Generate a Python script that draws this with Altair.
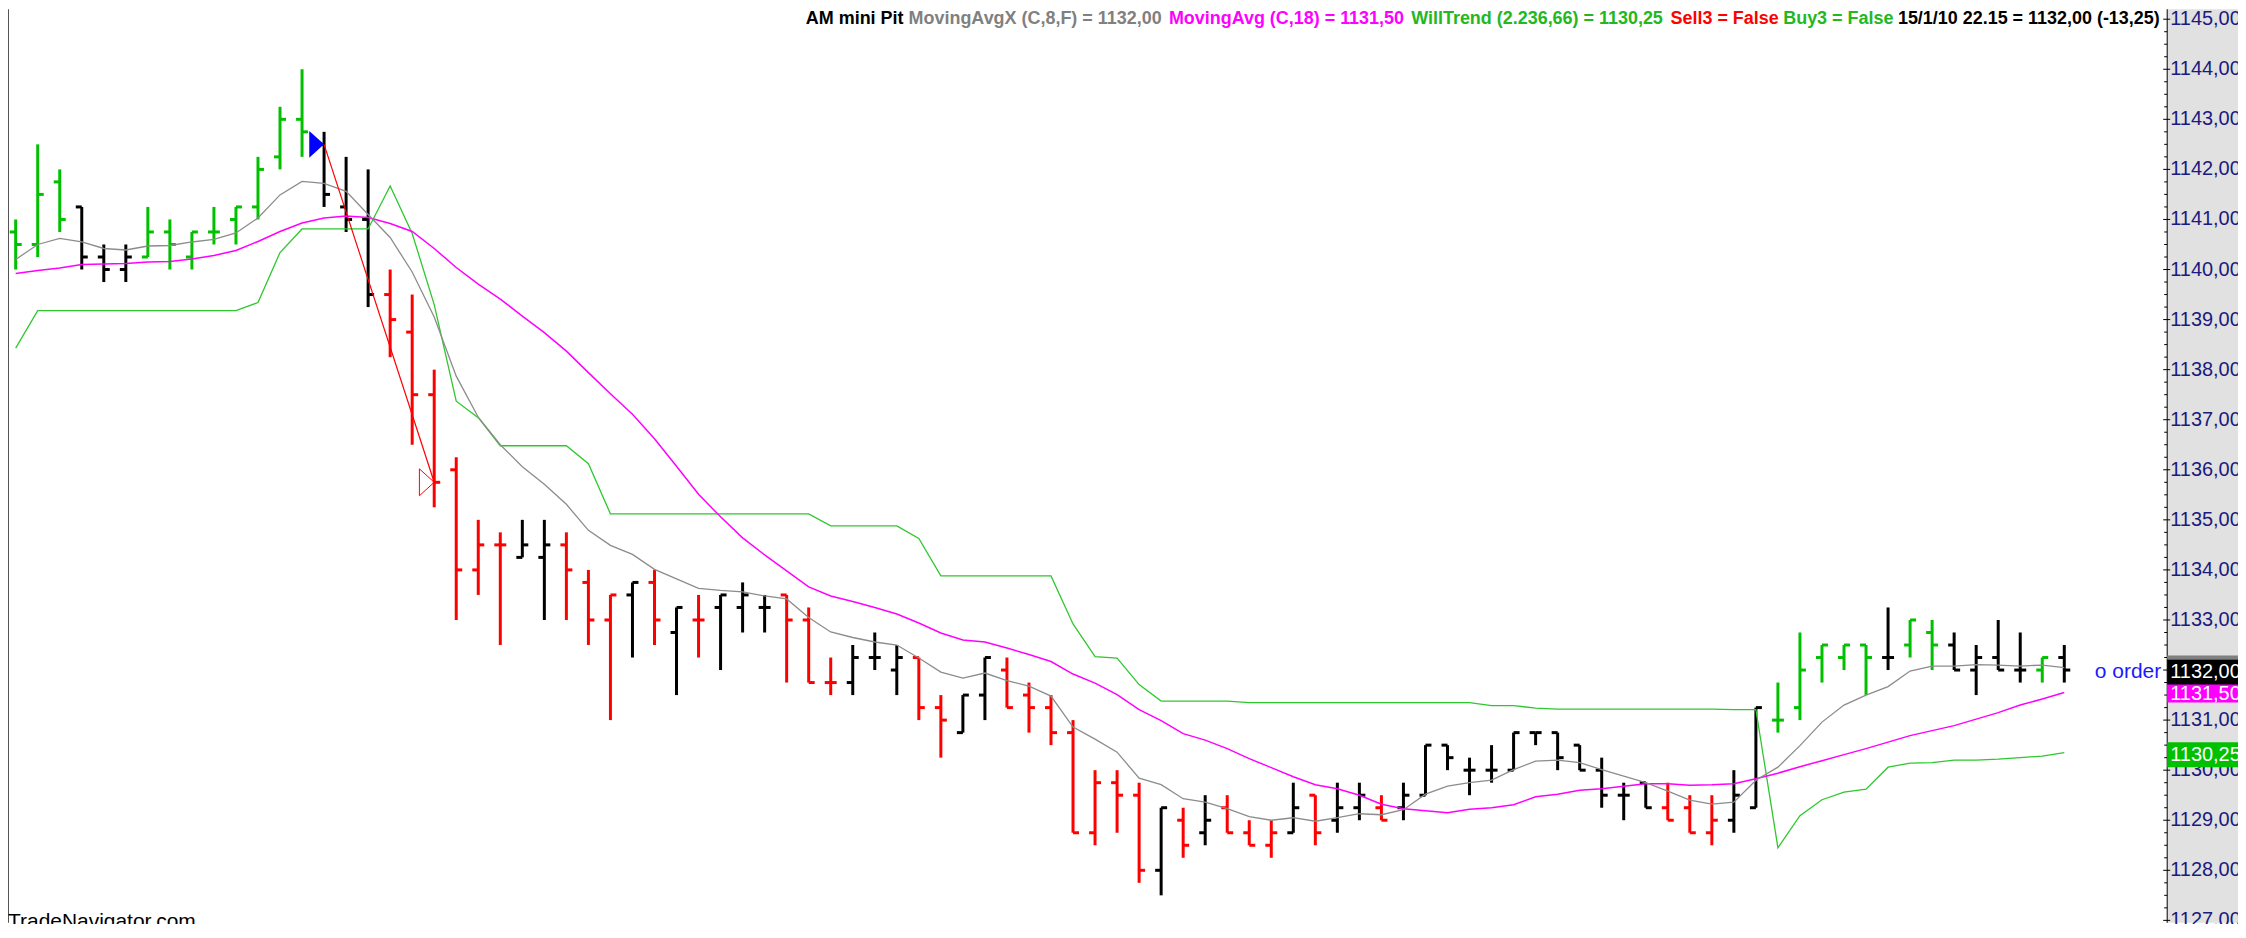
import altair as alt
import pandas as pd

# ---------------- data ----------------
opens = [1140.75, 1140.5, 1141.75, 1141.25, 1140.25, 1140.0, 1140.25, 1140.75, 1140.25, 1140.75,
         1141.0, 1141.25, 1142.25, 1143.0, 1142.5, 1141.25, 1141.0, 1139.5, 1138.75, 1137.5,
         1136.0, 1134.0, 1134.5, 1134.25, 1134.25, 1134.5, 1133.75, 1133.0, 1133.5, 1133.75,
         1132.75, 1133.0, 1133.25, 1133.25, 1133.25, 1133.5, 1133.0, 1131.75, 1131.75, 1132.25,
         1132.0, 1132.25, 1131.25, 1130.75, 1131.5, 1132.0, 1131.5, 1131.25, 1130.75, 1128.75,
         1129.75, 1129.5, 1128.0, 1129.0, 1128.75, 1129.25, 1128.75, 1128.5, 1128.75, 1129.5,
         1129.0, 1129.25, 1129.25, 1129.25, 1129.5, 1130.5, 1130.0, 1130.0, 1130.0, 1130.75,
         1130.75, 1130.5, 1130.0, 1129.5, 1129.75, 1129.25, 1129.25, 1128.75, 1129.0, 1129.25,
         1131.0, 1131.25, 1132.25, 1132.25, 1132.5, 1132.25, 1132.5, 1132.75, 1132.5, 1132.0,
         1132.25, 1132.0, 1132.0, 1132.25]
highs = [1141.0, 1142.5, 1142.0, 1141.25, 1140.5, 1140.5, 1141.25, 1141.0, 1140.75, 1141.25,
         1141.25, 1142.25, 1143.25, 1144.0, 1142.75, 1142.25, 1142.0, 1140.0, 1139.5, 1138.0,
         1136.25, 1135.0, 1134.75, 1135.0, 1135.0, 1134.75, 1134.0, 1133.5, 1133.75, 1134.0,
         1133.25, 1133.5, 1133.5, 1133.75, 1133.5, 1133.5, 1133.25, 1132.25, 1132.5, 1132.75,
         1132.5, 1132.25, 1131.5, 1131.5, 1132.25, 1132.25, 1131.75, 1131.5, 1131.0, 1130.0,
         1130.0, 1129.75, 1129.25, 1129.25, 1129.5, 1129.5, 1129.0, 1129.0, 1129.75, 1129.5,
         1129.75, 1129.75, 1129.5, 1129.75, 1130.5, 1130.5, 1130.25, 1130.5, 1130.75, 1130.75,
         1130.75, 1130.5, 1130.25, 1129.75, 1129.75, 1129.75, 1129.5, 1129.5, 1130.0, 1131.25,
         1131.75, 1132.75, 1132.5, 1132.5, 1132.5, 1133.25, 1133.0, 1133.0, 1132.75, 1132.5,
         1133.0, 1132.75, 1132.25, 1132.5]
lows = [1140.0, 1140.25, 1140.75, 1140.0, 1139.75, 1139.75, 1140.25, 1140.0, 1140.0, 1140.5,
        1140.5, 1141.0, 1142.0, 1142.25, 1141.25, 1140.75, 1139.25, 1138.25, 1136.5, 1135.25,
        1133.0, 1133.5, 1132.5, 1134.25, 1133.0, 1133.0, 1132.5, 1131.0, 1132.25, 1132.5,
        1131.5, 1132.25, 1132.0, 1132.75, 1132.75, 1131.75, 1131.75, 1131.5, 1131.5, 1132.0,
        1131.5, 1131.0, 1130.25, 1130.75, 1131.0, 1131.25, 1130.75, 1130.5, 1128.75, 1128.5,
        1128.75, 1127.75, 1127.5, 1128.25, 1128.5, 1128.75, 1128.5, 1128.25, 1128.75, 1128.5,
        1128.75, 1129.0, 1129.0, 1129.0, 1129.5, 1130.0, 1129.5, 1129.75, 1130.0, 1130.5,
        1130.0, 1130.0, 1129.25, 1129.0, 1129.25, 1129.0, 1128.75, 1128.5, 1128.75, 1129.25,
        1130.75, 1131.0, 1131.75, 1132.0, 1131.5, 1132.0, 1132.25, 1132.0, 1132.0, 1131.5,
        1132.0, 1131.75, 1131.75, 1131.75]
closes = [1140.5, 1141.5, 1141.0, 1140.25, 1140.0, 1140.25, 1140.75, 1140.5, 1140.75, 1140.75,
          1141.25, 1142.0, 1143.0, 1142.75, 1141.5, 1141.0, 1139.5, 1139.0, 1137.5, 1135.75,
          1134.0, 1134.5, 1134.5, 1134.5, 1134.5, 1134.0, 1133.0, 1133.5, 1133.75, 1133.0,
          1133.25, 1133.0, 1133.5, 1133.5, 1133.25, 1133.0, 1131.75, 1131.75, 1132.25, 1132.25,
          1132.25, 1131.25, 1131.0, 1131.5, 1132.25, 1131.25, 1131.25, 1130.75, 1128.75, 1129.75,
          1129.5, 1128.0, 1129.25, 1128.5, 1129.0, 1128.75, 1128.5, 1128.75, 1129.25, 1128.75,
          1129.25, 1129.5, 1129.0, 1129.5, 1130.5, 1130.25, 1130.0, 1130.0, 1130.75, 1130.75,
          1130.25, 1130.0, 1129.5, 1129.5, 1129.25, 1129.0, 1128.75, 1129.0, 1129.5, 1131.25,
          1131.0, 1132.0, 1132.5, 1132.5, 1132.25, 1132.25, 1133.0, 1132.5, 1132.0, 1132.25,
          1132.0, 1132.0, 1132.25, 1132.0]
# bar colour state: g = green, k = black, r = red
bar_colors = ["g", "g", "g", "k", "k", "k", "g", "g", "g", "g",
              "g", "g", "g", "g", "k", "k", "k", "r", "r", "r",
              "r", "r", "r", "k", "k", "r", "r", "r", "k", "r",
              "k", "r", "k", "k", "k", "r", "r", "r", "k", "k",
              "k", "r", "r", "k", "k", "r", "r", "r", "r", "r",
              "r", "r", "k", "r", "k", "r", "r", "r", "k", "r",
              "k", "k", "r", "k", "k", "k", "k", "k", "k", "k",
              "k", "k", "k", "k", "k", "r", "r", "r", "k", "k",
              "g", "g", "g", "g", "g", "k", "g", "g", "k", "k",
              "k", "k", "g", "k"]
ma8 = [1140.2, 1140.5, 1140.62, 1140.55, 1140.42, 1140.39, 1140.47, 1140.48, 1140.55, 1140.6,
       1140.73, 1141.03, 1141.49, 1141.76, 1141.72, 1141.56, 1141.1, 1140.64, 1139.95, 1139.05,
       1137.87, 1137.05, 1136.5, 1136.06, 1135.71, 1135.31, 1134.79, 1134.49, 1134.31, 1134.01,
       1133.82, 1133.63, 1133.59, 1133.56, 1133.48, 1133.42, 1133.05, 1132.76, 1132.65, 1132.56,
       1132.5, 1132.24, 1131.96, 1131.84, 1131.94, 1131.79, 1131.68, 1131.48, 1130.86, 1130.62,
       1130.36, 1129.84, 1129.71, 1129.43, 1129.36, 1129.23, 1129.07, 1129.0, 1129.05, 1128.98,
       1129.05, 1129.13, 1129.11, 1129.21, 1129.52, 1129.68, 1129.75, 1129.8, 1130.01, 1130.18,
       1130.2, 1130.15, 1130.01, 1129.88, 1129.75, 1129.58, 1129.4, 1129.32, 1129.36, 1129.8,
       1130.06, 1130.49, 1130.96, 1131.3, 1131.5, 1131.67, 1131.98, 1132.08, 1132.08, 1132.11,
       1132.1, 1132.08, 1132.1, 1132.05]
ma18 = [1139.92, 1139.98, 1140.03, 1140.1, 1140.11, 1140.12, 1140.15, 1140.16, 1140.21, 1140.28,
        1140.38, 1140.56, 1140.76, 1140.93, 1141.03, 1141.07, 1141.04, 1140.92, 1140.76, 1140.42,
        1140.04, 1139.71, 1139.41, 1139.07, 1138.74, 1138.37, 1137.94, 1137.52, 1137.11, 1136.62,
        1136.07, 1135.51, 1135.06, 1134.64, 1134.3, 1133.98, 1133.66, 1133.48, 1133.37, 1133.25,
        1133.12, 1132.94, 1132.74, 1132.6, 1132.56, 1132.44, 1132.31, 1132.17, 1131.92, 1131.74,
        1131.51, 1131.21, 1130.99, 1130.73, 1130.6, 1130.43, 1130.23, 1130.05, 1129.87, 1129.71,
        1129.63, 1129.5, 1129.32, 1129.23, 1129.19, 1129.15, 1129.22, 1129.25, 1129.31, 1129.47,
        1129.52, 1129.6, 1129.63, 1129.68, 1129.73, 1129.73, 1129.7, 1129.71, 1129.73, 1129.83,
        1129.94, 1130.07, 1130.19, 1130.31, 1130.43, 1130.56, 1130.69, 1130.79, 1130.89, 1131.02,
        1131.15, 1131.3, 1131.42, 1131.55]
willtrend = [1138.43, 1139.18, 1139.18, 1139.18, 1139.18, 1139.18, 1139.18, 1139.18, 1139.18, 1139.18,
             1139.18, 1139.34, 1140.34, 1140.81, 1140.81, 1140.81, 1140.81, 1141.67, 1140.72, 1139.3,
             1137.37, 1137.04, 1136.48, 1136.48, 1136.48, 1136.48, 1136.12, 1135.12, 1135.12, 1135.12,
             1135.12, 1135.12, 1135.12, 1135.12, 1135.12, 1135.12, 1135.12, 1134.88, 1134.88, 1134.88,
             1134.88, 1134.63, 1133.88, 1133.88, 1133.88, 1133.88, 1133.88, 1133.88, 1132.92, 1132.27,
             1132.24, 1131.71, 1131.38, 1131.38, 1131.38, 1131.38, 1131.35, 1131.35, 1131.35, 1131.35,
             1131.35, 1131.35, 1131.35, 1131.35, 1131.35, 1131.35, 1131.35, 1131.29, 1131.29, 1131.24,
             1131.22, 1131.22, 1131.22, 1131.22, 1131.22, 1131.22, 1131.22, 1131.22, 1131.21, 1131.21,
             1128.45, 1129.09, 1129.41, 1129.56, 1129.62, 1130.06, 1130.14, 1130.15, 1130.2, 1130.2,
             1130.22, 1130.25, 1130.28, 1130.35]

arrow_bars = [14, 19]            # buy (blue) and sell (red) signal bars
arrow_prices = [1142.5, 1135.75]

# price-axis labels (1132,00 is hidden behind the last-price badge)
tick_labels = ["1127,00", "1128,00", "1129,00", "1130,00", "1131,00", "1133,00",
               "1134,00", "1135,00", "1136,00", "1137,00", "1138,00", "1139,00", "1140,00",
               "1141,00", "1142,00", "1143,00", "1144,00", "1145,00"]
tick_label_values = [1127, 1128, 1129, 1130, 1131, 1133, 1134, 1135, 1136, 1137, 1138,
                     1139, 1140, 1141, 1142, 1143, 1144, 1145]
tick_values = [1127, 1128, 1129, 1130, 1131, 1132, 1133, 1134, 1135, 1136, 1137, 1138,
               1139, 1140, 1141, 1142, 1143, 1144, 1145]
minor_values = [v + q for v in range(1126, 1146) for q in (0.25, 0.5, 0.75)]

badge_text = ["1130,25", "1131,50", "1132,00"]
badge_center = [1130.31, 1131.53, 1131.96]
badge_lo = [1130.06, 1131.35, 1131.71]
badge_hi = [1130.56, 1131.75, 1132.21]
badge_fill = ["#00c000", "#ff00ff", "#000000"]

header = [
    ("AM mini Pit", "#000000", 800),
    ("MovingAvgX (C,8,F) = 1132,00", "#808080", 903),
    ("MovingAvg (C,18) = 1131,50", "#ff00ff", 1164),
    ("WillTrend (2.236,66) = 1130,25", "#22b822", 1407),
    ("Sell3 = False", "#ff0000", 1667),
    ("Buy3 = False", "#22b822", 1780),
    ("15/1/10 22.15 = 1132,00 (-13,25)", "#000000", 1895),
]

# ---------------- chart ----------------
W, H = 2236, 916
AX = 2165  # pixel position of the price axis line
FONT = "Liberation Sans"
xs = alt.Scale(domain=[-0.3486, 100.886], nice=False, zero=False)
ys = alt.Scale(domain=[1126.952, 1145.199], nice=False, zero=False)
X = alt.X("i:Q", scale=xs, axis=None)


def Y(f):
    return alt.Y(f"{f}:Q", scale=ys, axis=None)


n = len(closes)
bars = pd.DataFrame({"i": list(range(n)), "o": opens, "h": highs, "l": lows,
                     "c": closes, "col": bar_colors})
ind = pd.DataFrame({"i": list(range(n)), "ma8": ma8, "ma18": ma18, "wt": willtrend})
arrows = pd.DataFrame({"i": arrow_bars, "p": arrow_prices})
one = pd.DataFrame({"a": [0]})

colE = alt.Color("col:N", scale=alt.Scale(domain=["g", "k", "r"],
                                          range=["#00c000", "#000000", "#ff0000"]), legend=None)

layers = []
# axis panel background
layers.append(alt.Chart(one).mark_rect(color="#e1e1e1").encode(
    x=alt.value(AX), x2=alt.value(W), y=alt.value(0), y2=alt.value(H)))

# OHLC bars
b = alt.Chart(bars)
layers.append(b.mark_rule(strokeWidth=3).encode(x=X, y=Y("l"), y2=alt.Y2("h"), color=colE))
layers.append(b.mark_rule(strokeWidth=3, x2Offset=-6).encode(x=X, x2=alt.X2("i"), y=Y("o"), color=colE))
layers.append(b.mark_rule(strokeWidth=3, x2Offset=6).encode(x=X, x2=alt.X2("i"), y=Y("c"), color=colE))

# indicator lines
li = alt.Chart(ind)
layers.append(li.mark_line(color="#2ec82e", strokeWidth=1.3).encode(x=X, y=Y("wt")))
layers.append(li.mark_line(color="#ff00ff", strokeWidth=1.5).encode(x=X, y=Y("ma18")))
layers.append(li.mark_line(color="#8c8c8c", strokeWidth=1.3).encode(x=X, y=Y("ma8")))

# signal line and arrows
a = alt.Chart(arrows)
layers.append(a.mark_line(color="#ff0000", strokeWidth=1.2).encode(x=X, y=Y("p")))
tri = "M -1.1 -1 L 0 0 L -1.1 1 Z"
layers.append(alt.Chart(arrows.iloc[:1]).mark_point(shape=tri, size=729, filled=True,
              color="#0000ff", opacity=1).encode(x=X, y=Y("p")))
layers.append(alt.Chart(arrows.iloc[1:]).mark_point(shape=tri, size=729, filled=False,
              color="#ff0000", strokeWidth=1, opacity=1).encode(x=X, y=Y("p")))

# left border
layers.append(alt.Chart(one).mark_rule(color="#555555", strokeWidth=2).encode(
    x=alt.value(0), y=alt.value(0), y2=alt.value(H)))

# price axis: line, ticks, labels
layers.append(alt.Chart(one).mark_rule(color="#000000", strokeWidth=1).encode(
    x=alt.value(AX), y=alt.value(0), y2=alt.value(H)))
layers.append(alt.Chart(pd.DataFrame({"v": minor_values})).mark_rule(color="#000000").encode(
    x=alt.value(AX - 3), x2=alt.value(AX), y=Y("v")))
layers.append(alt.Chart(pd.DataFrame({"v": tick_values})).mark_rule(color="#000000").encode(
    x=alt.value(AX - 4), x2=alt.value(AX + 3), y=Y("v")))
layers.append(alt.Chart(pd.DataFrame({"v": tick_label_values, "t": tick_labels})).mark_text(
    align="left", baseline="middle", font=FONT, fontSize=20, color="#1a1a80").encode(
    x=alt.value(AX + 3), y=Y("v"), text="t:N"))

# last-value badges
bd = pd.DataFrame({"lo": badge_lo, "hi": badge_hi, "fill": badge_fill,
                   "c": badge_center, "t": badge_text})
layers.append(alt.Chart(pd.DataFrame({"lo": [1132.21], "hi": [1132.29]})).mark_rect(color="#808080").encode(
    x=alt.value(AX), x2=alt.value(W), y=Y("lo"), y2=alt.Y2("hi")))
layers.append(alt.Chart(bd).mark_rect().encode(
    x=alt.value(AX), x2=alt.value(W), y=Y("lo"), y2=alt.Y2("hi"),
    color=alt.Color("fill:N", scale=None)))
layers.append(alt.Chart(bd).mark_text(align="left", baseline="middle", font=FONT,
              fontSize=20, color="#ffffff").encode(x=alt.value(AX + 3), y=Y("c"), text="t:N"))

layers.append(alt.Chart(pd.DataFrame({"c": [1131.96], "t": ["o order"]})).mark_text(
    align="right", baseline="middle", font=FONT, fontSize=21, color="#1a1aff").encode(
    x=alt.value(AX - 6), y=Y("c"), text="t:N"))

# header
for txt, col, px in header:
    layers.append(alt.Chart(pd.DataFrame({"t": [txt]})).mark_text(
        align="left", baseline="alphabetic", font=FONT, fontWeight="bold",
        fontSize=18, color=col).encode(x=alt.value(px), y=alt.value(15), text="t:N"))

layers.append(alt.Chart(pd.DataFrame({"t": ["TradeNavigator.com"]})).mark_text(
    align="left", baseline="top", font=FONT, fontSize=21, color="#000000").encode(
    x=alt.value(0), y=alt.value(904), text="t:N"))

chart = alt.layer(*layers).properties(
    width=W, height=H, padding=0, background="#ffffff",
    autosize=alt.AutoSizeParams(type="none"),
).configure_view(strokeWidth=0)

chart.save("out.html", embed_options={"renderer": "svg", "actions": False})
